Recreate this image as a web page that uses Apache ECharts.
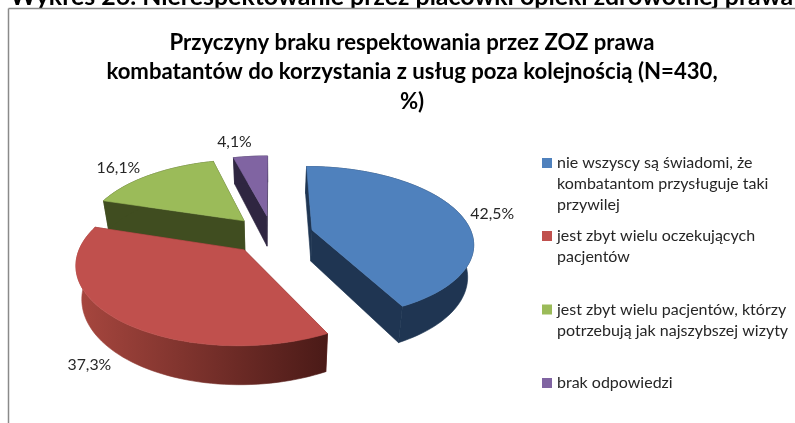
<!DOCTYPE html>
<html><head><meta charset="utf-8">
<style>html,body{margin:0;padding:0;background:#fff}#c{width:795px;height:423px}</style>
<script src="https://cdn.jsdelivr.net/npm/echarts@6/dist/echarts.min.js"></script>
</head><body><div id="c"></div>
<script>
const heading = 'Wykres 26. Nierespektowanie przez placówki opieki zdrowotnej prawa';
const chartTitle = 'Przyczyny braku respektowania przez ZOZ prawa\nkombatantów do korzystania z usług poza kolejnością (N=430,\n%)';
const categories = [
  'nie wszyscy są świadomi, że\nkombatantom przysługuje taki\nprzywilej',
  'jest zbyt wielu oczekujących\npacjentów',
  'jest zbyt wielu pacjentów, którzy\npotrzebują jak najszybszej wizyty',
  'brak odpowiedzi'
];
const values = [42.5, 37.3, 16.1, 4.1];

const topColors = ['#4F81BD', '#C0504D', '#9BBB59', '#8064A2'];
const wallColors = ['#1F3552', '#7A2F2C', '#404D20', '#2F2641'];
const redWall = {type:'linear',x:0,y:0,x2:1,y2:0,colorStops:[{offset:0,color:'#A8473F'},{offset:1,color:'#4A1A17'}]};
const outerFills = [wallColors[0], redWall, wallColors[2], wallColors[3]];
const labelShift = [[33,0],[-29,45],[-32,-7],[-16,-14]];
const legendTops = [152.5, 225.5, 299, 372.5];
const FONT = 'Lato';
const cam = {vx:272, vy:234.5, A:160, B:75, k:0.16, h:31.5, shrink:0.97, explode:0.26};

const total = values.reduce((a,b)=>a+b,0);
const rad = d => d*Math.PI/180;
function project(X, Y, down){
  const s = 1/(1+cam.k*Y);
  let x = cam.vx + cam.A*X*s, y = cam.vy - cam.B*Y*s;
  if(down){ y += cam.h*s; x = cam.vx + (x-cam.vx)*cam.shrink; }
  return [x,y];
}
let acc = 0;
const spans = values.map(v => { const a = acc; acc += v/total*360; return [a, acc]; });

function renderSlice(i){
  const [a0,a1] = spans[i];
  const mid = rad((a0+a1)/2);
  const ex = cam.explode*Math.sin(mid), ey = cam.explode*Math.cos(mid);
  const pt = (deg,down) => project(ex+Math.sin(rad(deg)), ey+Math.cos(rad(deg)), down);
  const apex = d => project(ex,ey,d);
  const arc = [], arcD = [];
  const n = Math.max(4, Math.ceil((a1-a0)/2));
  for(let j=0;j<=n;j++){ const d=a0+(a1-a0)*j/n; arc.push(pt(d,false)); arcD.push(pt(d,true)); }
  const poly = (points, fill) => ({type:'polygon', shape:{points}, style:{fill, stroke:fill, lineWidth:0.6}});
  const children = [
    poly([apex(false),pt(a1,false),pt(a1,true),apex(true)], wallColors[i]),
    poly([apex(false),pt(a0,false),pt(a0,true),apex(true)], wallColors[i]),
    poly(arc.concat(arcD.slice().reverse()), outerFills[i]),
    poly([apex(false)].concat(arc), topColors[i])
  ];
  const lp = project(ex+Math.sin(mid), ey+Math.cos(mid), false);
  children.push({type:'text', x:lp[0]+labelShift[i][0], y:lp[1]+labelShift[i][1],
    style:{text:values[i].toFixed(1).replace('.',',')+'%', font:'15.8px '+FONT, fill:'#262626', align:'center', verticalAlign:'middle'}});
  return {type:'group', children};
}

const series = categories.map((name,i)=>({
  name, type:'custom', coordinateSystem:'none',
  z: Math.round(2+(1-Math.cos(rad((spans[i][0]+spans[i][1])/2)))*10),
  itemStyle:{color:topColors[i]},
  data:[values[i]],
  renderItem: () => renderSlice(i),
  silent:true, animation:false
}));

const legends = categories.map((name,i)=>{
  const H = name.split('\n').length*21;
  return {
    data:[name], left:542, top:legendTops[i], padding:0, orient:'vertical',
    itemWidth:10, itemHeight:H, symbolKeepAspect:false, selectedMode:false,
    icon:'path://M0 5.5H10V15.5H0Z M0 0H0 M10 '+H+'H10',
    itemStyle:{borderWidth:0},
    textStyle:{fontFamily:FONT, fontSize:16, lineHeight:21, color:'#262626'}
  };
});

const chart = echarts.init(document.getElementById('c'), null, {renderer:'canvas'});
chart.setOption({
  animation:false, backgroundColor:'#fff',
  title:{text:chartTitle, left:407, top:23, textAlign:'center',
    textStyle:{fontFamily:FONT, fontSize:22.15, fontWeight:'bold', color:'#000', lineHeight:29.5}},
  legend:legends,
  graphic:[
    {type:'text', x:10, y:-16, silent:true, style:{text:heading, font:'bold 24.9px '+FONT, fill:'#000'}},
    {type:'line', silent:true, shape:{x1:8.5,y1:8.5,x2:795,y2:8.5}, style:{stroke:'#8a8a8a',lineWidth:1.5}},
    {type:'line', silent:true, shape:{x1:8.5,y1:8.5,x2:8.5,y2:423}, style:{stroke:'#8a8a8a',lineWidth:1.5}}
  ],
  series
});
</script></body></html>
